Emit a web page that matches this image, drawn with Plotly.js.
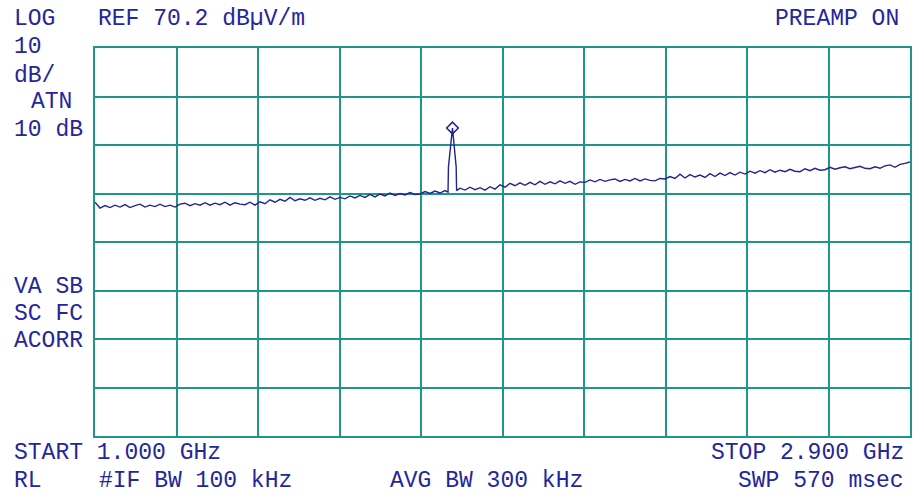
<!DOCTYPE html>
<html>
<head>
<meta charset="utf-8">
<script src="https://cdn.plot.ly/plotly-3.0.1.min.js"></script>
<style>html,body{margin:0;padding:0;background:#fff;}#chart{width:913px;height:495px;}</style>
</head>
<body>
<div id="chart"></div>
<script>
// Sweep settings (GHz) and display reference (dBuV/m)
const startFreq = 1.000;
const stopFreq = 2.900;
const refLevel = 70.2;
const dbPerDiv = 10;
const xDivisions = 10;
const yDivisions = 8;

const traceLevels = [
  38.4, 37.2, 37.7, 37.3, 37.8, 37.4, 37.9, 37.3, 37.7, 38.0, 37.4, 37.8, 37.5, 38.0, 37.5, 37.8,
  37.4, 38.0, 38.2, 37.7, 38.1, 37.8, 38.3, 37.8, 38.2, 37.9, 38.4, 37.8, 38.3, 38.0, 37.9, 38.4, 37.8,
  38.5, 38.1, 38.9, 38.4, 39.0, 38.6, 39.4, 38.7, 39.1, 38.8, 39.3, 38.8, 39.2, 38.9, 39.5, 39.0,
  39.4, 39.1, 39.7, 39.3, 39.8, 39.4, 40.0, 39.5, 40.1, 39.7, 40.3, 39.8, 40.2, 39.9, 40.4, 40.0,
  40.1, 40.6, 40.2, 40.7, 40.3, 40.8, 40.5, 40.6,
  41.3, 40.9, 41.5, 41.0, 41.4, 40.9, 41.6, 41.1, 42.0,
  41.5, 42.3, 41.8, 42.4, 41.9, 42.5, 42.0, 42.7, 42.1, 42.6, 42.2, 42.8, 42.3, 42.7, 42.1, 42.6,
  42.5, 43.0, 42.6, 43.1, 42.7, 43.0, 43.2, 42.7, 43.1, 42.8, 43.3, 42.8, 43.2, 42.9, 42.8, 43.3,
  43.2, 43.7, 43.3, 44.2, 43.4, 44.1, 43.6, 44.0, 43.5, 44.3, 43.7, 44.4, 43.9, 44.5, 44.0, 44.6,
  44.2, 44.8, 44.4, 44.9, 44.5, 45.1, 44.6, 45.0, 44.7, 45.2, 44.8, 44.7, 45.3, 44.9, 45.4, 45.0,
  45.1, 45.6, 45.2, 45.5, 45.7, 45.3, 45.6, 45.8, 45.4, 45.3, 45.7, 45.4, 45.9, 46.1, 45.6, 46.2, 46.4, 46.7
];

// Signal spike (GHz / dBuV/m)
const spikeFreqs = [1.8230, 1.8240, 1.8334, 1.8420, 1.8430];
const spikeLevels = [40.5, 45.7, 53.7, 45.7, 40.8];

// Marker on the peak
const markerFreq = [1.8334];
const markerLevel = [53.7];

// Screen annotations
const textLines = [
  {t: "LOG", px: 12, py: 19, a: "left"},
  {t: "REF 70.2 dBµV/m", px: 96, py: 19, a: "left"},
  {t: "PREAMP ON", px: 901, py: 19, a: "right"},
  {t: "10", px: 12, py: 47, a: "left"},
  {t: "dB/", px: 12, py: 76, a: "left"},
  {t: "ATN", px: 29, py: 102, a: "left"},
  {t: "10 dB", px: 12, py: 130, a: "left"},
  {t: "VA SB", px: 12, py: 287, a: "left"},
  {t: "SC FC", px: 12, py: 314, a: "left"},
  {t: "ACORR", px: 12, py: 341, a: "left"},
  {t: "START 1.000 GHz", px: 12, py: 453, a: "left"},
  {t: "STOP 2.900 GHz", px: 906, py: 453, a: "right"},
  {t: "RL", px: 12, py: 481, a: "left"},
  {t: "#IF BW 100 kHz", px: 97, py: 481, a: "left"},
  {t: "AVG BW 300 kHz", px: 388, py: 481, a: "left"},
  {t: "SWP 570 msec", px: 906, py: 481, a: "right"}
];

// Build sweep: uniform sweep points, with the spike inserted
const n = traceLevels.length;
const step = (stopFreq - startFreq) / (n - 1);
let pts = [];
for (let i = 0; i < n; i++) {
  const f = startFreq + i * step;
  if (f > spikeFreqs[0] - 0.001 && f < spikeFreqs[spikeFreqs.length - 1] + 0.001) continue;
  pts.push([f, traceLevels[i]]);
}
for (let i = 0; i < spikeFreqs.length; i++) pts.push([spikeFreqs[i], spikeLevels[i]]);
pts.sort((a, b) => a[0] - b[0]);

const bottom = refLevel - dbPerDiv * yDivisions;
const gridColor = "#1f968a";
const inkColor = "#24269a";
const traceColor = "#222290";

const L = 95, R = 910, T = 48, B = 436;
const annotations = textLines.map(o => ({
  text: o.t,
  xref: "paper", yref: "paper",
  x: (o.px - L) / (R - L),
  y: (B - o.py) / (B - T),
  xanchor: o.a, yanchor: "middle",
  showarrow: false,
  font: {family: "Liberation Mono, DejaVu Sans Mono, monospace", size: 23, color: inkColor}
}));

const data = [
  {
    x: pts.map(p => p[0]), y: pts.map(p => p[1]),
    type: "scatter", mode: "lines",
    line: {color: traceColor, width: 1.4},
    hoverinfo: "skip"
  },
  {
    x: markerFreq, y: markerLevel,
    type: "scatter", mode: "markers",
    marker: {symbol: "diamond-open", size: 9, color: traceColor, line: {width: 1.5, color: traceColor}},
    hoverinfo: "skip"
  }
];

const layout = {
  width: 913, height: 495,
  margin: {l: L, r: 913 - R, t: T, b: 495 - B, pad: 0},
  paper_bgcolor: "#ffffff", plot_bgcolor: "#ffffff",
  showlegend: false,
  xaxis: {
    range: [startFreq, stopFreq], tick0: startFreq, dtick: (stopFreq - startFreq) / xDivisions,
    showgrid: true, gridcolor: gridColor, gridwidth: 2,
    zeroline: false, showline: true, mirror: true, linecolor: gridColor, linewidth: 2,
    showticklabels: false, ticks: "", fixedrange: true
  },
  yaxis: {
    range: [bottom, refLevel], tick0: bottom, dtick: dbPerDiv,
    showgrid: true, gridcolor: gridColor, gridwidth: 2,
    zeroline: false, showline: true, mirror: true, linecolor: gridColor, linewidth: 2,
    showticklabels: false, ticks: "", fixedrange: true
  },
  annotations: annotations
};

Plotly.newPlot("chart", data, layout, {staticPlot: true, displayModeBar: false});
</script>
</body>
</html>
